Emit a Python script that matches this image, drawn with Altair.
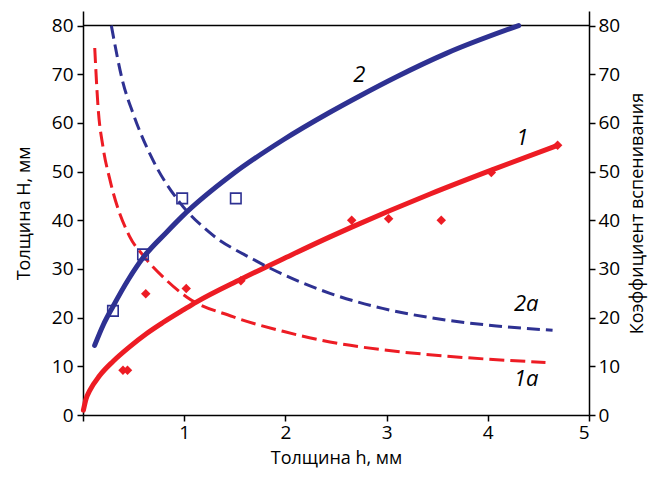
import altair as alt
import pandas as pd

# ---- data ----
# curve 1 (red, solid): fitted H vs h
h1 = [0.004, 0.03, 0.066, 0.165, 0.296, 0.46, 0.626, 0.79, 1.0, 1.12, 1.56, 2.01, 2.44, 2.655, 3.43, 4.035, 4.69]
H1 = [1.0, 3.3, 5.0, 8.1, 11.0, 14.0, 16.7, 19.0, 21.7, 23.2, 27.9, 32.4, 36.6, 38.6, 45.4, 50.3, 55.4]
# curve 2 (blue, solid)
h2 = [0.115, 0.2, 0.296, 0.45, 0.593, 0.824, 0.98, 1.48, 1.976, 2.44, 2.73, 3.1, 3.59, 4.305]
H2 = [14.3, 18.5, 22.3, 27.9, 32.3, 37.5, 40.8, 49.5, 56.5, 62.2, 65.5, 69.5, 74.3, 80.0]
# curve 1a (red, dashed): foaming coefficient
h1a = [0.116, 0.148, 0.198, 0.264, 0.46, 0.593, 0.824, 1.02, 1.48, 1.976, 2.44, 2.96, 3.59, 4.57]
K1a = [75.4, 63.5, 55.0, 48.5, 36.7, 32.8, 27.7, 24.3, 20.2, 17.2, 15.0, 13.4, 12.1, 10.8]
# curve 2a (blue, dashed)
h2a = [0.28, 0.395, 0.494, 0.69, 0.955, 1.25, 1.68, 2.07, 2.44, 2.96, 3.59, 4.085, 4.64]
K2a = [80.0, 68.3, 62.0, 52.4, 43.7, 37.5, 32.0, 28.0, 25.0, 21.9, 19.5, 18.3, 17.4]
# measured points
h1_pts = [0.395, 0.44, 0.62, 1.02, 1.56, 2.655, 3.02, 3.54, 4.035, 4.69]
H1_pts = [9.2, 9.2, 24.9, 26.0, 27.6, 40.0, 40.3, 40.0, 49.8, 55.4]
h2_pts = [0.296, 0.593, 0.98, 1.51]
H2_pts = [21.4, 33.0, 44.5, 44.5]
# curve labels
lab_text = ["2", "1", "2a", "1a"]
lab_h = [2.73, 4.34, 4.38, 4.38]
lab_H = [69.9, 57.0, 22.9, 7.4]
x_ticks = [0, 1, 2, 3, 4, 5]
y_ticks = [0, 10, 20, 30, 40, 50, 60, 70, 80]

RED = "#ED1C24"
BLUE = "#2E3192"
FONT = "Open Sans"

xs = alt.Scale(domain=[0, 5], nice=False)
ys = alt.Scale(domain=[0, 83], nice=False)

x_axis = alt.Axis(values=x_ticks, labelExpr="datum.value == 0 ? '' : datum.label",
                  title="Толщина h,  мм", grid=False, tickSize=6, labelPadding=2,
                  titlePadding=7)
y_left = alt.Axis(values=y_ticks, title="Толщина H,  мм", grid=False, tickSize=6,
                  labelPadding=4, titlePadding=18, orient="left")
y_right = alt.Axis(values=y_ticks, title="Коэффициент вспенивания", grid=False, tickSize=6,
                   labelPadding=3, titlePadding=9, orient="right", titleAngle=270,
                   titleBaseline="top")

X = alt.X("h:Q", scale=xs, axis=x_axis)


def line(h, v, color, width, dash=None, axis=None):
    df = pd.DataFrame({"h": h, "v": v})
    kw = dict(color=color, strokeWidth=width, interpolate="monotone")
    if dash:
        kw["strokeDash"] = dash
        kw["strokeCap"] = "butt"
    else:
        kw["strokeCap"] = "round"
    return alt.Chart(df).mark_line(**kw).encode(
        x=X,
        y=alt.Y("v:Q", scale=ys, axis=axis),
    )


l1 = line(h1, H1, RED, 5, axis=y_left)
l2 = line(h2, H2, BLUE, 5)
l1a = line(h1a, K1a, RED, 3, dash=[15, 6])
l2a = line(h2a, K2a, BLUE, 3, dash=[13, 6])

p1 = alt.Chart(pd.DataFrame({"h": h1_pts, "v": H1_pts})).mark_point(
    shape="diamond", filled=True, color=RED, size=90, opacity=1
).encode(x=X, y=alt.Y("v:Q", scale=ys, axis=None))

p2 = alt.Chart(pd.DataFrame({"h": h2_pts, "v": H2_pts})).mark_point(
    shape="square", filled=False, color=BLUE, size=110, strokeWidth=1.6, opacity=1
).encode(x=X, y=alt.Y("v:Q", scale=ys, axis=None))

labels = alt.Chart(pd.DataFrame({"t": lab_text, "h": lab_h, "v": lab_H})).mark_text(
    font=FONT, fontSize=22, fontStyle="italic", color="black", align="center", baseline="middle"
).encode(x=X, y=alt.Y("v:Q", scale=ys, axis=None), text="t:N")

top = alt.Chart(pd.DataFrame({"v": [80]})).mark_rule(color="black", strokeWidth=1.5).encode(
    y=alt.Y("v:Q", scale=ys, axis=y_right)
)

chart = alt.layer(l1, top, l1a, l2a, l2, p1, p2, labels).resolve_scale(y="independent").properties(
    width=506, height=404,
    autosize=alt.AutoSizeParams(type="none"),
    padding={"left": 75, "top": 3, "right": 61, "bottom": 55},
).configure_view(stroke=None).configure_axis(
    domainColor="black", domainWidth=1.5, tickColor="black", tickWidth=1.5,
    labelColor="black", titleColor="black", labelFont=FONT, titleFont=FONT,
    labelFontSize=19, titleFontSize=18, titleFontWeight="normal",
)

chart.save("out.html", embed_options={"renderer": "svg", "actions": False})
